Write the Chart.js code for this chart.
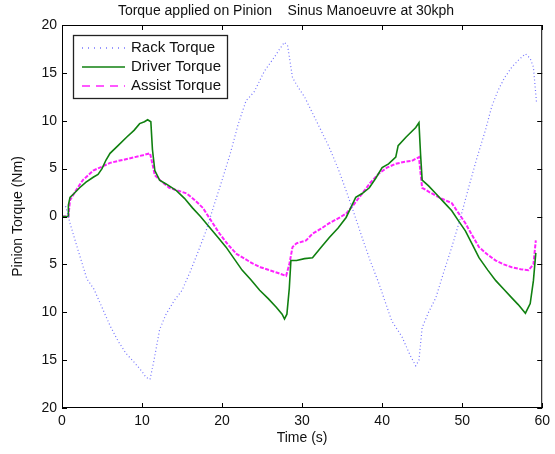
<!DOCTYPE html>
<html>
<head>
<meta charset="utf-8">
<script src="https://cdn.jsdelivr.net/npm/chart.js@4.4.1/dist/chart.umd.min.js"></script>
<style>
  html, body { margin: 0; padding: 0; background: #fff; }
  #wrap { width: 555px; height: 454px; }
</style>
</head>
<body>
<div id="wrap"><canvas id="torque-chart" width="555" height="454"></canvas></div>
<script>
// values (time in s, torque in Nm)
const chartTitle = 'Torque applied on Pinion    Sinus Manoeuvre at 30kph';
const xTicks = [0, 10, 20, 30, 40, 50, 60];
const yTicks = [-20, -15, -10, -5, 0, 5, 10, 15, 20];

const rack_t = [0, 0.5, 1.0, 2.0, 3.1, 4.0, 5.0, 6.0, 7.0, 8.0, 9.0, 10.0, 10.5, 11.0, 11.5, 12.2, 13.0, 14.0, 15.0, 16.0, 17.0, 18.0, 19.0, 20.0, 21.0, 22.0, 23.0, 24.0, 25.3, 26.5, 27.2, 27.8, 28.2, 28.8, 29.5, 30.3, 31.3, 32.3, 33.4, 34.5, 35.5, 36.5, 37.5, 38.5, 39.6, 40.5, 41.2, 42.5, 43.5, 44.2, 44.6, 45.0, 45.8, 46.7, 47.7, 48.7, 49.8, 50.8, 51.8, 52.9, 53.7, 54.5, 55.3, 56.2, 57.0, 57.9, 58.5, 58.9, 59.3];
const rack_v = [1.2, 1.0, -0.7, -3.5, -6.5, -7.6, -9.5, -11.4, -13.0, -14.3, -15.2, -16.2, -16.8, -17.0, -15.0, -11.8, -10.2, -8.8, -7.7, -5.8, -3.7, -1.5, 1.2, 3.8, 6.5, 9.6, 12.1, 13.0, 15.2, 16.6, 17.5, 18.2, 17.8, 14.5, 13.5, 12.5, 10.8, 9.1, 7.2, 5.0, 2.7, 0.3, -2.2, -4.6, -7.0, -9.2, -10.9, -12.6, -14.5, -15.6, -15.0, -11.6, -10.0, -8.5, -5.8, -3.2, -0.1, 3.0, 6.0, 9.0, 11.5, 13.2, 14.5, 15.6, 16.3, 17.0, 16.5, 15.6, 11.8];

const driver_t = [0, 0.75, 0.8, 1.0, 1.5, 2.2, 3.0, 3.9, 4.5, 5.0, 5.5, 6.0, 7.0, 8.1, 9.0, 9.7, 10.3, 10.7, 11.1, 11.3, 11.6, 12.2, 13.0, 14.3, 15.3, 16.3, 17.3, 18.4, 19.5, 20.5, 21.5, 22.5, 23.6, 24.7, 25.8, 26.8, 27.5, 27.8, 28.1, 28.4, 28.6, 29.3, 30.3, 31.3, 32.3, 33.4, 34.5, 35.5, 36.7, 37.5, 38.4, 39.2, 40.0, 40.8, 41.7, 42.0, 43.0, 44.2, 44.6, 44.8, 45.0, 45.8, 46.7, 47.7, 48.7, 49.5, 50.4, 51.2, 52.1, 53.2, 54.2, 55.2, 56.2, 57.0, 57.9, 58.5, 58.9, 59.2];
const driver_v = [0, 0, 1.2, 2.0, 2.4, 3.0, 3.6, 4.1, 4.4, 5.0, 5.9, 6.6, 7.4, 8.3, 9.0, 9.7, 9.9, 10.1, 9.9, 7.0, 4.8, 3.8, 3.4, 2.7, 1.9, 0.9, 0, -1.1, -2.2, -3.2, -4.4, -5.6, -6.6, -7.7, -8.6, -9.5, -10.2, -10.7, -10.2, -7.5, -4.6, -4.6, -4.4, -4.3, -3.3, -2.2, -1.2, -0.1, 2.0, 2.4, 3.0, 4.0, 5.1, 5.5, 6.2, 7.4, 8.3, 9.3, 9.8, 6.5, 3.8, 3.2, 2.4, 1.5, 0.6, -0.4, -1.5, -2.8, -4.3, -5.6, -6.7, -7.6, -8.5, -9.2, -10.1, -9.1, -6.7, -3.8];

const assist_t = [0, 0.8, 1.0, 1.8, 2.6, 3.9, 5.0, 6.0, 7.0, 8.1, 9.1, 10.1, 11.0, 11.3, 11.6, 12.5, 13.4, 14.5, 15.6, 16.6, 17.6, 18.6, 19.7, 20.7, 21.8, 22.8, 23.8, 24.8, 25.9, 27.0, 28.0, 28.4, 28.8, 29.3, 30.5, 31.3, 32.3, 33.4, 34.5, 35.5, 36.5, 37.5, 38.5, 39.6, 40.6, 41.7, 42.7, 43.7, 44.6, 44.8, 45.0, 46.0, 47.1, 48.7, 49.5, 50.4, 51.2, 52.1, 53.2, 54.2, 55.2, 56.2, 57.3, 58.3, 58.9, 59.2];
const assist_v = [0, 0, 1.7, 2.8, 3.8, 4.8, 5.2, 5.6, 5.8, 6.0, 6.2, 6.4, 6.6, 5.5, 4.3, 3.6, 3.0, 2.7, 2.4, 1.7, 0.9, -0.4, -1.8, -2.9, -3.9, -4.4, -4.9, -5.3, -5.6, -5.9, -6.2, -5.0, -3.2, -2.8, -2.5, -1.8, -1.3, -0.7, -0.2, 0.3, 1.3, 2.4, 3.5, 4.5, 5.1, 5.5, 5.7, 5.8, 6.2, 4.5, 3.0, 2.5, 2.0, 1.4, 0.4, -0.7, -1.9, -3.2, -4.0, -4.6, -5.0, -5.3, -5.5, -5.6, -5.0, -2.5];

const FONT = 'Liberation Sans, Arial, Helvetica, sans-serif';
const FSIZE = 14;

function pts(ts, vs) {
    return ts.map((t, i) => ({ x: t, y: vs[i] }));
}

// box, inward ticks on all four sides, title and legend (matlab style)
const matlabFrame = {
    id: 'matlabFrame',
    afterDraw(chart) {
        const ctx = chart.ctx;
        const a = chart.chartArea;
        const sx = chart.scales.x, sy = chart.scales.y;
        ctx.save();
        ctx.strokeStyle = '#000';
        ctx.lineWidth = 1;
        ctx.strokeRect(a.left + 0.5, a.top + 0.5, a.right - a.left - 1, a.bottom - a.top - 1);
        ctx.beginPath();
        xTicks.forEach(v => {
            const px = Math.round(sx.getPixelForValue(v)) + 0.5;
            ctx.moveTo(px, a.bottom); ctx.lineTo(px, a.bottom - 5);
            ctx.moveTo(px, a.top); ctx.lineTo(px, a.top + 5);
        });
        yTicks.forEach(v => {
            const py = Math.round(sy.getPixelForValue(v)) + 0.5;
            ctx.moveTo(a.left, py); ctx.lineTo(a.left + 5, py);
            ctx.moveTo(a.right, py); ctx.lineTo(a.right - 5, py);
        });
        ctx.stroke();

        // title
        ctx.fillStyle = '#111';
        ctx.font = FSIZE + 'px ' + FONT;
        ctx.textAlign = 'center';
        ctx.textBaseline = 'middle';
        ctx.fillText(chartTitle, 286, 11);

        // legend
        const lx = a.left + 11, ly = a.top + 10, lw = 154, lh = 63;
        ctx.fillStyle = '#fff';
        ctx.fillRect(lx, ly, lw, lh);
        ctx.strokeStyle = '#222';
        ctx.lineWidth = 1.3;
        ctx.strokeRect(lx + 0.5, ly + 0.5, lw, lh);
        ctx.font = '15px ' + FONT;
        const legDash = [[1, 5], [], [8, 6]];
        chart.data.datasets.forEach((ds, i) => {
            const ry = ly + 13 + i * 19;
            ctx.beginPath();
            ctx.setLineDash(legDash[i]);
            ctx.strokeStyle = ds.borderColor;
            ctx.lineWidth = 1.5;
            ctx.moveTo(lx + 9, ry); ctx.lineTo(lx + 52, ry);
            ctx.stroke();
            ctx.setLineDash([]);
            ctx.fillStyle = '#111';
            ctx.textAlign = 'left';
            ctx.fillText(ds.label, lx + 58, ry);
        });
        ctx.restore();
    }
};

const ctx = document.getElementById('torque-chart').getContext('2d');
const myChart = new Chart(ctx, {
    type: 'line',
    data: {
        datasets: [{
            label: 'Rack Torque',
            data: pts(rack_t, rack_v),
            borderColor: 'rgba(70, 70, 255, 0.75)',
            borderWidth: 1.2,
            borderDash: [1, 2.5],
            pointRadius: 0
        }, {
            label: 'Driver Torque',
            data: pts(driver_t, driver_v),
            borderColor: '#108010',
            borderWidth: 1.6,
            pointRadius: 0
        }, {
            label: 'Assist Torque',
            data: pts(assist_t, assist_v),
            borderColor: '#ff22ff',
            borderWidth: 2,
            borderDash: [4, 1.5],
            pointRadius: 0
        }]
    },
    options: {
        responsive: false,
        animation: false,
        layout: { padding: { top: 25, right: 10, left: 0, bottom: 0 } },
        plugins: {
            legend: { display: false },
            tooltip: { enabled: false }
        },
        scales: {
            x: {
                type: 'linear',
                min: 0,
                max: 60,
                afterFit: s => { s.height = 46; },
                afterBuildTicks: s => { s.ticks = xTicks.map(v => ({ value: v })); },
                grid: { display: false, drawTicks: false, tickLength: 0 },
                border: { display: false },
                ticks: { color: '#111', font: { family: FONT, size: FSIZE }, padding: 5, maxRotation: 0 },
                title: { display: true, text: 'Time (s)', color: '#111', font: { family: FONT, size: FSIZE }, padding: { top: 0, bottom: 7 } }
            },
            y: {
                min: -20,
                max: 20,
                afterFit: s => { s.width = 62; },
                afterBuildTicks: s => { s.ticks = yTicks.map(v => ({ value: v })); },
                grid: { display: false, drawTicks: false, tickLength: 0 },
                border: { display: false },
                ticks: {
                    color: '#111',
                    font: { family: FONT, size: FSIZE },
                    padding: 5,
                    callback: v => String(Math.abs(v))
                },
                title: { display: true, text: 'Pinion Torque (Nm)', color: '#111', font: { family: FONT, size: FSIZE }, padding: { top: 10, bottom: 4 } }
            }
        }
    },
    plugins: [matlabFrame]
});
</script>
</body>
</html>
